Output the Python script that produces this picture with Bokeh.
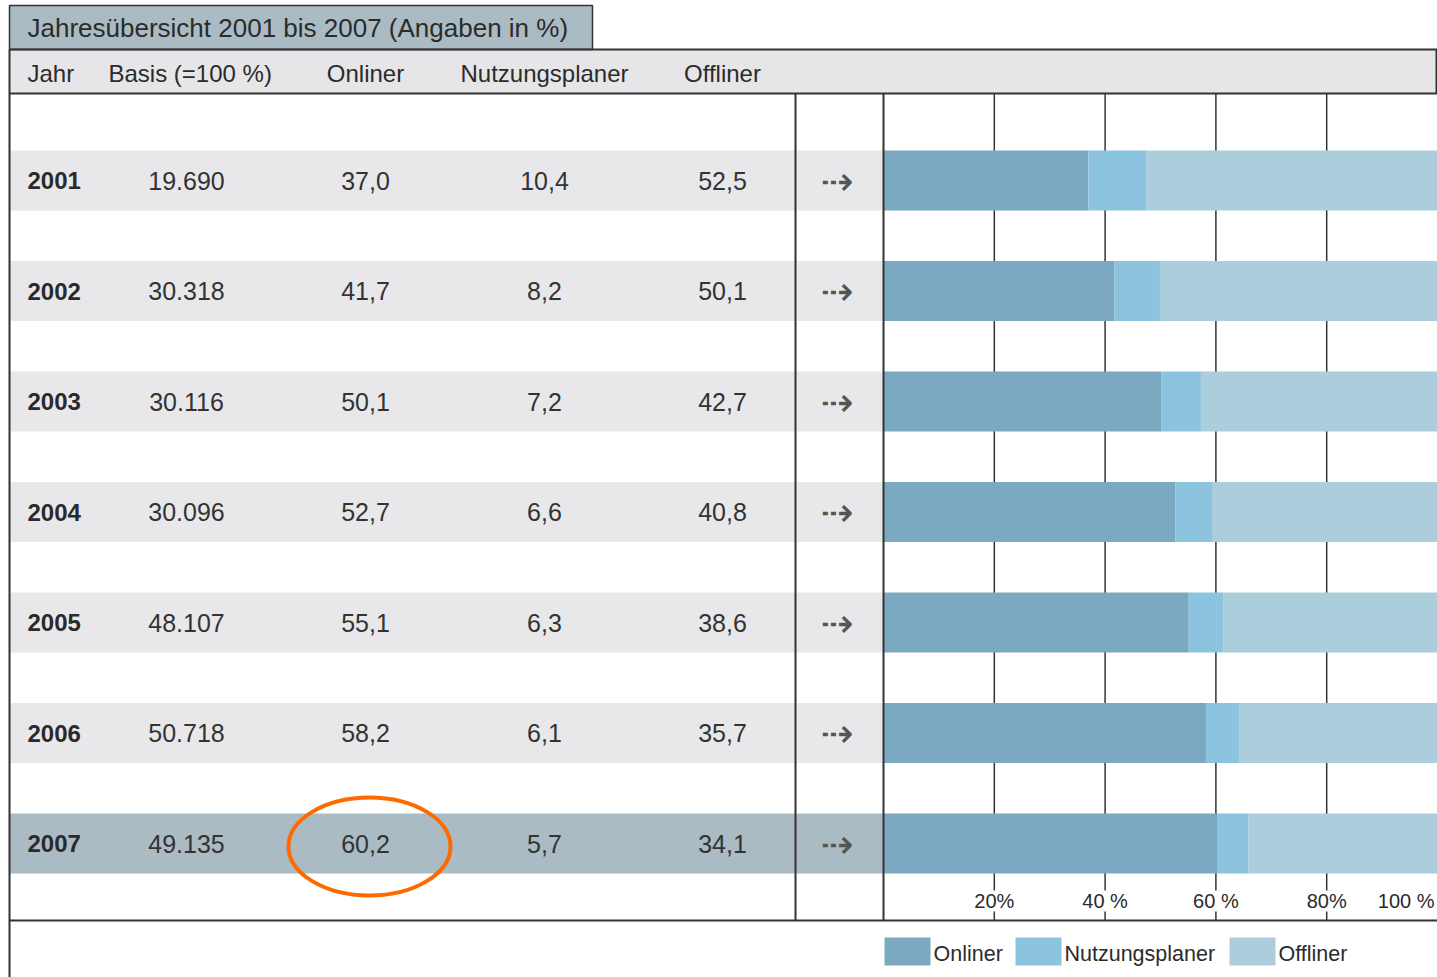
from bokeh.plotting import figure
from bokeh.models import Range1d, ColumnDataSource
from bokeh.core.properties import value
from bokeh.embed import file_html
from bokeh.resources import INLINE

# ---------------- data ----------------
years = [2001, 2002, 2003, 2004, 2005, 2006, 2007]
basis = [19690, 30318, 30116, 30096, 48107, 50718, 49135]
onliner = [37.0, 41.7, 50.1, 52.7, 55.1, 58.2, 60.2]
nutzungsplaner = [10.4, 8.2, 7.2, 6.6, 6.3, 6.1, 5.7]
offliner = [52.5, 50.1, 42.7, 40.8, 38.6, 35.7, 34.1]

title_text = "Jahresübersicht 2001 bis 2007 (Angaben in %)"
header_labels = ["Jahr", "Basis (=100 %)", "Onliner", "Nutzungsplaner", "Offliner"]
tick_values = [20, 40, 60, 80, 100]
tick_labels = ["20%", "40 %", "60 %", "80%", "100 %"]
series_names = ["Onliner", "Nutzungsplaner", "Offliner"]
series_colors = ["#7ba9c1", "#8cc3de", "#accddc"]
highlight_year = 2007
highlight_col = "Onliner"

# ---------------- layout constants ----------------
FONT = "Liberation Sans"
TXT = "#2b2b2b"
LINE = "#333333"
W, H = 1437, 977
X_LEFT, X_RIGHT = 9, 1437
X_SEP1, X_SEP2 = 795, 883          # separator lines; bar 0% at X_SEP2
Y_TOP_HEADER, Y_BOT_HEADER = 49, 93
Y_BOTTOM_LINE = 920
ROW0, ROW_STEP, ROW_H = 180, 110.5, 60
COL_X = [27, 186, 365, 544, 722]
HEAD_X = [27, 108, 365, 544, 722]
ARROW_X = 837

def fmt_int(v):
    return f"{v:,}".replace(",", ".")

def fmt_pct(v):
    return f"{v:.1f}".replace(".", ",")

p = figure(width=W, height=H, output_backend="svg", toolbar_location=None,
           x_range=Range1d(0, W), y_range=Range1d(H, 0),
           min_border=0, outline_line_color=None)
p.axis.visible = False
p.grid.visible = False
p.background_fill_color = "white"

# extra range for percentages: 0% at X_SEP2, 100% at right edge
ppp = (X_RIGHT - X_SEP2) / 100.0
p.extra_x_ranges = {"pct": Range1d((0 - X_SEP2) / ppp, (W - X_SEP2) / ppp)}

row_y = [ROW0 + i * ROW_STEP for i in range(len(years))]

# header band
p.quad(left=[X_LEFT], right=[X_RIGHT], top=[Y_TOP_HEADER], bottom=[Y_BOT_HEADER],
       fill_color="#e6e6e8", line_color=None)

# title box
p.quad(left=[X_LEFT], right=[592], top=[5], bottom=[Y_TOP_HEADER],
       fill_color="#aabbc4", line_color=LINE, line_width=1.5)
p.text(x=[27], y=[27], text=[title_text], text_font=value(FONT),
       text_font_size="26px", text_color=TXT, text_baseline="middle", text_align="left")

# header labels
hsrc = ColumnDataSource(dict(x=HEAD_X, y=[73] * 5, t=header_labels,
                             a=["left", "left", "center", "center", "center"]))
p.text(x="x", y="y", text="t", source=hsrc, text_font=value(FONT),
       text_font_size="24px", text_color=TXT, text_baseline="middle", text_align="a")

# row bands
band_colors = ["#aabbc4" if y == highlight_year else "#e8e8ea" for y in years]
p.hbar(y=row_y, left=X_LEFT, right=X_SEP2, height=ROW_H, fill_color=band_colors, line_color=None)

# grid lines (behind bars)
for tv in tick_values[:-1]:
    p.segment(x0=[tv], x1=[tv], y0=[Y_BOT_HEADER], y1=[890], x_range_name="pct",
              line_color=LINE, line_width=1.5)
    p.segment(x0=[tv], x1=[tv], y0=[911], y1=[Y_BOTTOM_LINE], x_range_name="pct",
              line_color=LINE, line_width=1.5)

# stacked bars
bsrc = ColumnDataSource(dict(y=row_y, Onliner=onliner, Nutzungsplaner=nutzungsplaner,
                             Offliner=offliner))
p.hbar_stack(series_names, y="y", height=ROW_H, color=series_colors, source=bsrc,
             x_range_name="pct", line_color=None)

# tick labels
p.text(x=tick_values[:-1], y=[900] * 4, text=tick_labels[:-1], x_range_name="pct",
       text_font=value(FONT), text_font_size="20px", text_color=TXT,
       text_baseline="middle", text_align="center")
p.text(x=[tick_values[-1]], y=[900], text=[tick_labels[-1]], x_range_name="pct",
       text_font=value(FONT), text_font_size="20px", text_color=TXT,
       text_baseline="middle", text_align="right", x_offset=-3)

# lines
p.segment(x0=[X_LEFT, X_LEFT, X_LEFT], x1=[X_RIGHT, X_RIGHT, X_RIGHT],
          y0=[Y_TOP_HEADER, Y_BOT_HEADER, Y_BOTTOM_LINE],
          y1=[Y_TOP_HEADER, Y_BOT_HEADER, Y_BOTTOM_LINE], line_color=LINE, line_width=2)
p.segment(x0=[X_LEFT], x1=[X_LEFT], y0=[Y_TOP_HEADER], y1=[H], line_color=LINE, line_width=2)
p.segment(x0=[1436], x1=[1436], y0=[Y_TOP_HEADER], y1=[Y_BOT_HEADER], line_color=LINE, line_width=2)
p.segment(x0=[X_SEP1, X_SEP2], x1=[X_SEP1, X_SEP2], y0=[Y_BOT_HEADER] * 2,
          y1=[Y_BOTTOM_LINE] * 2, line_color=LINE, line_width=2)

# row texts
ysrc = ColumnDataSource(dict(x=[COL_X[0]] * len(years), y=row_y, t=[str(v) for v in years]))
p.text(x="x", y="y", text="t", source=ysrc, text_font=value(FONT), text_font_style="bold",
       text_font_size="24px", text_color="#2a2a2a", text_baseline="middle", text_align="left")
for ci, vals in enumerate([basis, onliner, nutzungsplaner, offliner]):
    labels = [fmt_int(v) for v in vals] if ci == 0 else [fmt_pct(v) for v in vals]
    p.text(x=[COL_X[ci + 1]] * len(years), y=row_y, text=labels, text_font=value(FONT),
           text_font_size="25px", text_color="#333333", text_baseline="middle",
           text_align="center")

# arrows
p.text(x=[ARROW_X] * len(years), y=row_y, text=["⇢"] * len(years),
       text_font=value("DejaVu Sans"), text_font_size="40px", text_color="#555555",
       text_baseline="middle", text_align="center")

# highlight ellipse
hi = years.index(highlight_year)
hc = header_labels.index(highlight_col)
p.ellipse(x=[COL_X[hc] + 4], y=[row_y[hi] + 3], width=162, height=98, fill_color=None,
          line_color="#ff6a00", line_width=4)

# legend
leg_x = [884, 1015, 1229]
p.quad(left=leg_x, right=[x + 46 for x in leg_x], top=[937] * 3, bottom=[965] * 3,
       fill_color=series_colors, line_color=None)
p.text(x=[x + 49 for x in leg_x], y=[953] * 3, text=series_names, text_font=value(FONT),
       text_font_size="21.5px", text_color=TXT, text_baseline="middle", text_align="left")

open("out.html", "w").write(file_html(p, INLINE))
